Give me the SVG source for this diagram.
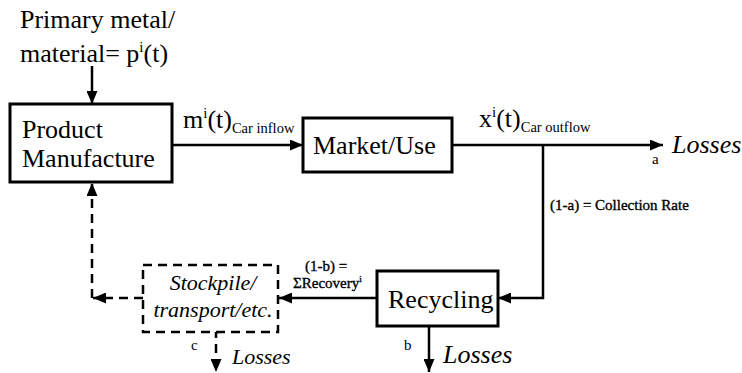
<svg xmlns="http://www.w3.org/2000/svg" width="742" height="373" viewBox="0 0 742 373">
<style>
.t{font-family:"Liberation Serif","Times New Roman",serif;fill:#000}
.big{font-size:26px}
.it{font-style:italic}
.sm{font-size:15px;stroke:#000;stroke-width:0.35}
.box{fill:#fff;stroke:#000;stroke-width:3}
.dbox{fill:#fff;stroke:#000;stroke-width:2.5;stroke-dasharray:9,6}
.ln{fill:none;stroke:#000;stroke-width:2.5}
.dl{fill:none;stroke:#000;stroke-width:2.5;stroke-dasharray:9,6}
</style>
<defs>
<marker id="ah" markerUnits="userSpaceOnUse" markerWidth="13" markerHeight="11" refX="13" refY="5.5" orient="auto">
<path d="M0,0 L13,5.5 L0,11 z" fill="#000"/>
</marker>
</defs>
<rect width="742" height="373" fill="#fff"/>
<g id="connectors">
<path class="ln" d="M92,66 V104" marker-end="url(#ah)"/>
<path class="ln" d="M172,145 H303" marker-end="url(#ah)"/>
<path class="ln" d="M452,145 H663" marker-end="url(#ah)"/>
<path class="ln" d="M543,145 V298 H498" marker-end="url(#ah)"/>
<path class="ln" d="M429,326 V372" marker-end="url(#ah)"/>
<path class="ln" d="M377,298 H279" marker-end="url(#ah)"/>
<path class="dl" d="M143,298 H93" marker-end="url(#ah)"/>
<path class="dl" d="M92,298 V183" marker-end="url(#ah)"/>
<path class="dl" d="M219,332 H216 V372" marker-end="url(#ah)"/>
</g>
<g id="primary">
<text class="t big" x="20" y="28">Primary metal/</text>
<text class="t big" x="20" y="62">material= p<tspan font-size="15" dy="-10">i</tspan><tspan dy="10">(t)</tspan></text>
</g>
<g id="product-manufacture">
<rect class="box" x="10" y="104" width="162" height="78"/>
<text class="t big" x="22" y="138">Product</text>
<text class="t big" x="22" y="167">Manufacture</text>
</g>
<g id="market-use">
<rect class="box" x="303" y="118" width="149" height="54"/>
<text class="t big" x="313" y="154">Market/Use</text>
</g>
<g id="recycling">
<rect class="box" x="377" y="271" width="121" height="55"/>
<text class="t big" x="388" y="308">Recycling</text>
</g>
<g id="stockpile">
<rect class="dbox" x="143" y="265" width="135" height="67"/>
<text class="t it" font-size="22" x="213" y="290" text-anchor="middle">Stockpile/</text>
<text class="t it" font-size="22" x="213" y="317" text-anchor="middle">transport/etc.</text>
</g>
<g id="labels">
<text class="t big" x="183" y="128">m<tspan font-size="15" dy="-10">i</tspan><tspan dy="10">(t)</tspan><tspan font-size="14.5" dy="5">Car inflow</tspan></text>
<text class="t big" x="479" y="127">x<tspan font-size="15" dy="-10">i</tspan><tspan dy="10">(t)</tspan><tspan font-size="14.5" dy="5">Car outflow</tspan></text>
<text class="t big it" x="672" y="153">Losses</text>
<text class="t" font-size="15" x="652" y="164">a</text>
<text class="t sm" x="550" y="210">(1-a) = Collection Rate</text>
<text class="t sm" x="305" y="271" font-size="14">(1-b) =</text>
<text class="t sm" x="293" y="288" font-size="14">ΣRecovery<tspan font-size="9" dy="-6">i</tspan></text>
<text class="t" font-size="15" x="404" y="350">b</text>
<text class="t big it" x="443" y="363">Losses</text>
<text class="t" font-size="15" x="191" y="350">c</text>
<text class="t it" font-size="22" x="232" y="364">Losses</text>
</g>
</svg>
